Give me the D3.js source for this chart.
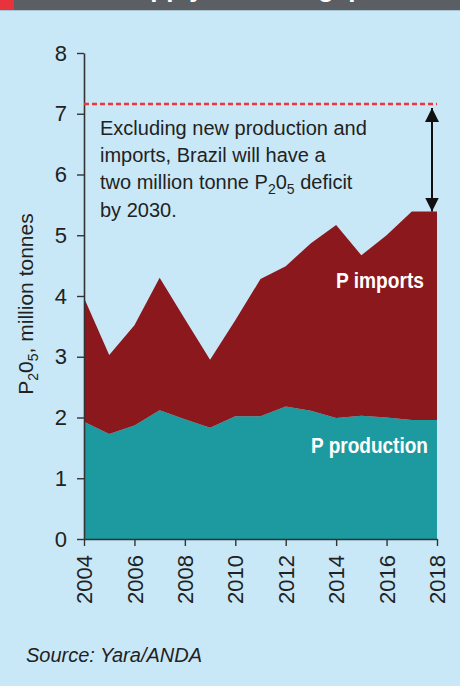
<!DOCTYPE html>
<html>
<head>
<meta charset="utf-8">
<script src="https://cdn.jsdelivr.net/npm/d3@7"></script>
<style>
  body { margin: 0; background: #c9e8f7; }
  svg { display: block; font-family: 'Liberation Sans', Arial, sans-serif; }
</style>
</head>
<body>
<svg id="chart"></svg>
<script>
// data (million tonnes P2O5)
const years = [2004, 2005, 2006, 2007, 2008, 2009, 2010, 2011, 2012, 2013, 2014, 2015, 2016, 2017, 2018];
const production = [1.93, 1.73, 1.87, 2.12, 1.97, 1.83, 2.02, 2.02, 2.18, 2.11, 1.99, 2.03, 2.00, 1.96, 1.96];
const imports = [2.04, 1.30, 1.65, 2.18, 1.65, 1.12, 1.58, 2.26, 2.31, 2.76, 3.18, 2.64, 3.00, 3.43, 3.43];
const yTicks = [0, 1, 2, 3, 4, 5, 6, 7, 8];
const xTicks = [2004, 2006, 2008, 2010, 2012, 2014, 2016, 2018];
const demand2030 = 7.16;
const noteLines = [
  ['Excluding new production and'],
  ['imports, Brazil will have a'],
  ['two million tonne P', '2', '0', '5', ' deficit'],
  ['by 2030.']
];

const width = 460;
const height = 686;
const margin = {top: 53, right: 23, bottom: 147, left: 84};

const svg = d3.select('#chart')
  .attr('width', width)
  .attr('height', height);

// header strip (cut off at the top)
svg.append('rect').attr('x', 0).attr('y', 0).attr('width', width).attr('height', 10).attr('fill', '#5b5f63');
svg.append('rect').attr('x', 0).attr('y', 0).attr('width', 14).attr('height', 10).attr('fill', '#e8323c');
svg.append('rect').attr('x', 0).attr('y', 10).attr('width', width).attr('height', 1).attr('fill', '#a7c5d3');
svg.append('text')
  .attr('x', 230).attr('y', -3)
  .attr('text-anchor', 'middle')
  .attr('fill', '#fff')
  .style('font-size', '26px').style('font-weight', 'bold')
  .text('P supply/demand gap');

const x = d3.scaleLinear()
  .domain([2004, 2018])
  .range([margin.left, width - margin.right]);

const y = d3.scaleLinear()
  .domain([0, 8])
  .range([height - margin.bottom, margin.top]);

// stacked areas
const rows = years.map((yr, i) => ({year: yr, production: production[i], imports: imports[i]}));
const stack = d3.stack().keys(['production', 'imports']);
const series = stack(rows);
const colors = {production: '#1c9a9f', imports: '#8b181d'};

const area = d3.area()
  .x(d => x(d.data.year))
  .y0(d => y(d[0]))
  .y1(d => y(d[1]));

svg.append('g')
  .selectAll('path')
  .data(series)
  .join('path')
  .attr('fill', d => colors[d.key])
  .attr('d', area);

// axes
const yAxis = d3.axisLeft(y).tickValues(yTicks).tickSize(7).tickPadding(10).tickSizeOuter(0);
const yAxisG = svg.append('g')
  .attr('transform', `translate(${margin.left},0)`)
  .call(yAxis);

const xAxis = d3.axisBottom(x).tickValues(xTicks).tickFormat(d3.format('d')).tickSize(7).tickSizeOuter(0);
const xAxisG = svg.append('g')
  .attr('transform', `translate(0,${height - margin.bottom})`)
  .call(xAxis);

xAxisG.selectAll('text')
  .attr('transform', 'rotate(-90)')
  .attr('x', -16)
  .attr('y', 0)
  .attr('dy', '0.35em')
  .style('text-anchor', 'end');

[yAxisG, xAxisG].forEach(g => {
  g.select('.domain').attr('stroke', '#333').attr('stroke-width', 1.6);
  g.selectAll('.tick line').attr('stroke', '#333').attr('stroke-width', 1.4);
  g.selectAll('.tick text')
    .attr('fill', '#222')
    .style('font-size', '22px')
    .style('font-family', "'Liberation Sans', Arial, sans-serif");
});

// y axis title
const yTitle = svg.append('text')
  .attr('transform', `translate(33, 304) rotate(-90)`)
  .attr('text-anchor', 'middle')
  .attr('fill', '#222')
  .style('font-size', '21px');
yTitle.append('tspan').text('P');
yTitle.append('tspan').attr('dy', 5).style('font-size', '14px').text('2');
yTitle.append('tspan').attr('dy', -5).text('0');
yTitle.append('tspan').attr('dy', 5).style('font-size', '14px').text('5');
yTitle.append('tspan').attr('dy', -5).text(', million tonnes');

// 2030 demand line
svg.append('line')
  .attr('x1', x(2004)).attr('x2', x(2018))
  .attr('y1', y(demand2030)).attr('y2', y(demand2030))
  .attr('stroke', '#e8383d')
  .attr('stroke-width', 2.5)
  .attr('stroke-dasharray', '5,3');

// double arrow for the deficit
const arrowX = x(2018) - 5;
const lastTotal = production[production.length - 1] + imports[imports.length - 1];
const defs = svg.append('defs');
defs.append('marker')
  .attr('id', 'head')
  .attr('viewBox', '0 0 10 10')
  .attr('refX', 10).attr('refY', 5)
  .attr('markerWidth', 7).attr('markerHeight', 7.5)
  .attr('markerUnits', 'strokeWidth')
  .attr('orient', 'auto-start-reverse')
  .append('path')
  .attr('d', 'M0,0 L10,5 L0,10 Z')
  .attr('fill', '#111');

svg.append('line')
  .attr('x1', arrowX).attr('x2', arrowX)
  .attr('y1', y(demand2030) + 4).attr('y2', y(lastTotal))
  .attr('stroke', '#111')
  .attr('stroke-width', 2)
  .attr('marker-start', 'url(#head)')
  .attr('marker-end', 'url(#head)');

// annotation text
const note = svg.append('text')
  .attr('fill', '#222')
  .style('font-size', '20px');
noteLines.forEach((parts, i) => {
  const line = note.append('tspan').attr('x', 100).attr('y', 135 + i * 27.2);
  if (parts.length === 1) {
    line.text(parts[0]);
  } else {
    note.select('tspan:last-child').text(parts[0]);
    note.append('tspan').attr('dy', 5).style('font-size', '14px').text(parts[1]);
    note.append('tspan').attr('dy', -5).text(parts[2]);
    note.append('tspan').attr('dy', 5).style('font-size', '14px').text(parts[3]);
    note.append('tspan').attr('dy', -5).text(parts[4]);
  }
});

// series labels
svg.append('text')
  .attr('x', 424).attr('y', 288)
  .attr('text-anchor', 'end')
  .attr('fill', '#fff')
  .attr('textLength', 88).attr('lengthAdjust', 'spacingAndGlyphs')
  .style('font-size', '22px').style('font-weight', 'bold')
  .text('P imports');

svg.append('text')
  .attr('x', 428).attr('y', 453)
  .attr('text-anchor', 'end')
  .attr('fill', '#fff')
  .attr('textLength', 117).attr('lengthAdjust', 'spacingAndGlyphs')
  .style('font-size', '22px').style('font-weight', 'bold')
  .text('P production');

// source
svg.append('text')
  .attr('x', 26).attr('y', 662)
  .attr('fill', '#222')
  .style('font-size', '20px').style('font-style', 'italic')
  .text('Source: Yara/ANDA');
</script>
</body>
</html>
